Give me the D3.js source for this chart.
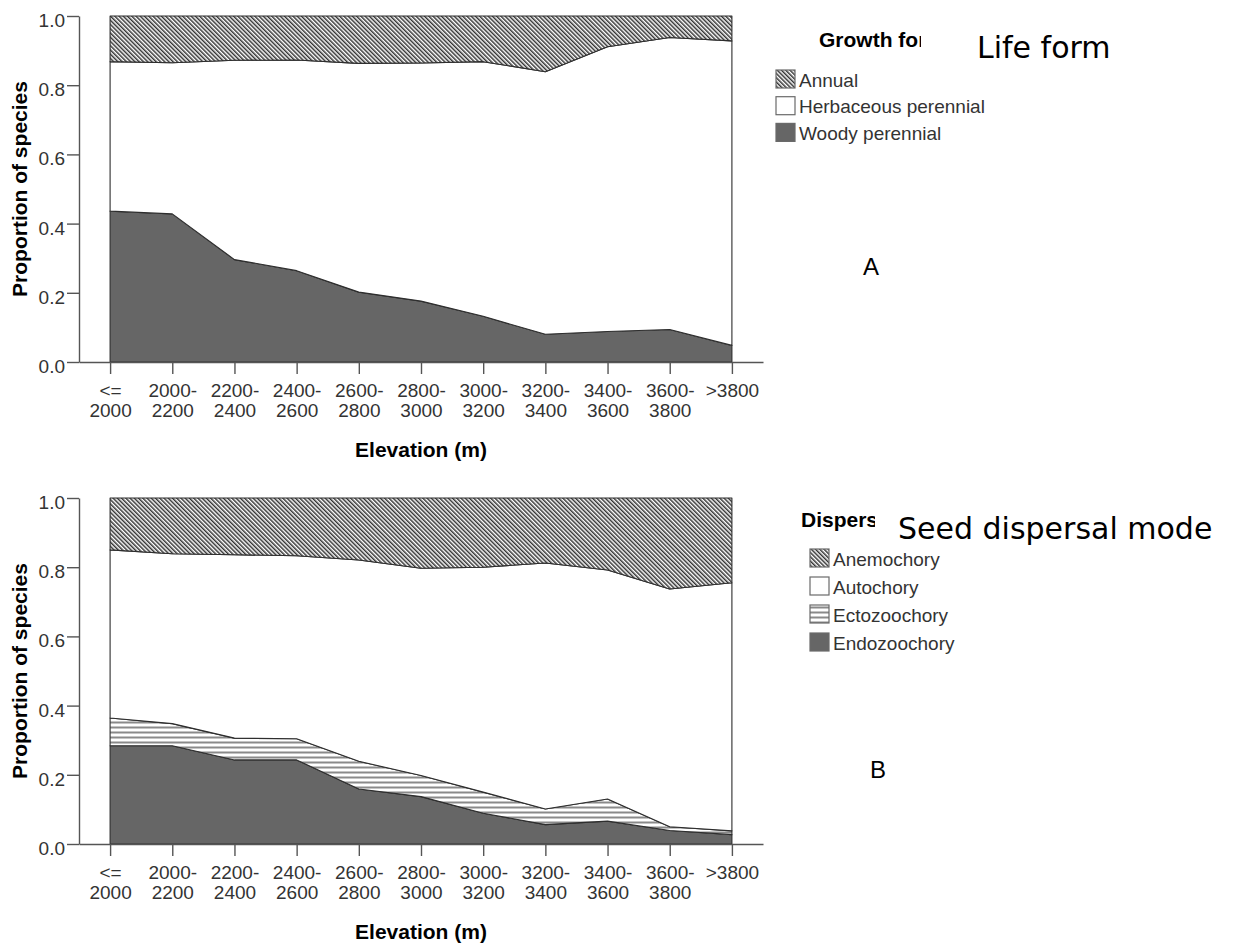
<!DOCTYPE html>
<html>
<head>
<meta charset="utf-8">
<script src="https://cdn.jsdelivr.net/npm/d3@7"></script>
<style>
  body { margin: 0; background: #fff; }
  svg { display: block; }
</style>
</head>
<body>
<svg id="chart" width="1234" height="945"></svg>
<script>
// elevation classes (x categories)
var elevations = ["<=\n2000", "2000-\n2200", "2200-\n2400", "2400-\n2600", "2600-\n2800",
                  "2800-\n3000", "3000-\n3200", "3200-\n3400", "3400-\n3600", "3600-\n3800", ">3800"];
var yTicks = [0, 0.2, 0.4, 0.6, 0.8, 1.0];

// panel A : growth form proportions (stacked bottom -> top)
var growthKeys = ["Woody perennial", "Herbaceous perennial", "Annual"];
var woody  = [0.436, 0.428, 0.296, 0.264, 0.202, 0.176, 0.132, 0.080, 0.088, 0.094, 0.048];
var herb   = [0.432, 0.437, 0.576, 0.609, 0.661, 0.688, 0.736, 0.759, 0.823, 0.844, 0.880];
var annual = [0.132, 0.135, 0.128, 0.127, 0.137, 0.136, 0.132, 0.161, 0.089, 0.062, 0.072];

// panel B : dispersal mode proportions (stacked bottom -> top)
var dispKeys = ["Endozoochory", "Ectozoochory", "Autochory", "Anemochory"];
var endo  = [0.284, 0.284, 0.243, 0.243, 0.159, 0.137, 0.089, 0.056, 0.066, 0.039, 0.027];
var ecto  = [0.080, 0.064, 0.063, 0.061, 0.080, 0.061, 0.061, 0.045, 0.064, 0.011, 0.011];
var auto  = [0.486, 0.491, 0.530, 0.529, 0.582, 0.599, 0.650, 0.711, 0.662, 0.687, 0.717];
var anemo = [0.150, 0.161, 0.164, 0.167, 0.179, 0.203, 0.200, 0.188, 0.208, 0.263, 0.245];

var svg = d3.select("#chart");
var defs = svg.append("defs");

// diagonal hatch "\\\\"
defs.append("pattern")
    .attr("id", "diag")
    .attr("patternUnits", "userSpaceOnUse")
    .attr("width", 3).attr("height", 3)
    .attr("patternTransform", "rotate(-45)")
  .call(function(p){
    p.append("rect").attr("width", 3).attr("height", 3).attr("fill", "#fff");
    p.append("rect").attr("width", 1.5).attr("height", 3).attr("fill", "#333");
  });

// horizontal stripes
defs.append("pattern")
    .attr("id", "hstripe")
    .attr("patternUnits", "userSpaceOnUse")
    .attr("width", 4).attr("height", 5)
  .call(function(p){
    p.append("rect").attr("width", 4).attr("height", 5).attr("fill", "#fff");
    p.append("rect").attr("y", 1.5).attr("width", 4).attr("height", 2).attr("fill", "#8a8a8a");
  });

var FONT = "'Liberation Sans', Arial, sans-serif";

function drawPanel(p) {
  var g = svg.append("g");
  var y = d3.scaleLinear().domain([0, 1]).range([p.top + 346, p.top]);
  var x = d3.scalePoint().domain(d3.range(elevations.length)).range([79, 763]).padding(0.5);

  var rows = elevations.map(function(e, i){
    var r = { i: i };
    p.keys.forEach(function(k, j){ r[k] = p.values[j][i]; });
    return r;
  });
  var series = d3.stack().keys(p.keys)(rows);

  var area = d3.area()
      .x(function(d){ return x(d.data.i); })
      .y0(function(d){ return y(d[0]); })
      .y1(function(d){ return y(d[1]); });

  g.selectAll("path.layer")
    .data(series)
    .enter().append("path")
      .attr("class", "layer")
      .attr("d", area)
      .attr("fill", function(d, i){ return p.fills[i]; })
      .attr("stroke", "#2e2e2e")
      .attr("stroke-width", 1.1)
      .attr("stroke-linejoin", "round");

  // y axis
  var ya = g.append("g")
      .attr("transform", "translate(79,0)")
      .call(d3.axisLeft(y).tickValues(yTicks).tickFormat(d3.format(".1f"))
              .tickSize(12).tickSizeOuter(0).tickPadding(2));
  // x axis
  var xa = g.append("g")
      .attr("transform", "translate(0," + y(0) + ")")
      .call(d3.axisBottom(x).tickSize(12).tickSizeOuter(0).tickFormat(""));

  [ya, xa].forEach(function(a){
    a.selectAll("path, line").attr("stroke", "#555").attr("stroke-width", 1.4);
    a.selectAll("text").attr("font-family", FONT).attr("font-size", 19).attr("fill", "#333");
  });
  ya.selectAll("text").attr("dy", "0.55em");

  // two-line category labels
  xa.selectAll(".tick").append("text")
      .attr("text-anchor", "middle")
      .attr("font-family", FONT).attr("font-size", 19).attr("fill", "#333")
    .selectAll("tspan")
    .data(function(d){ return elevations[d].split("\n"); })
    .enter().append("tspan")
      .attr("x", 0)
      .attr("y", function(d, i){ return 35 + i * 20; })
      .text(function(d){ return d; });

  // axis titles
  g.append("text")
      .attr("x", 421).attr("y", y(0) + 95)
      .attr("text-anchor", "middle")
      .attr("font-family", FONT).attr("font-size", 21).attr("font-weight", "bold")
      .text("Elevation (m)");
  g.append("text")
      .attr("transform", "translate(27," + (y(0) + y(1)) / 2 + ") rotate(-90)")
      .attr("text-anchor", "middle")
      .attr("font-family", FONT).attr("font-size", 21).attr("font-weight", "bold")
      .text("Proportion of species");

  // legend (title is cut off in the original)
  var L = p.legend;
  defs.append("clipPath").attr("id", p.id + "clip")
    .append("rect").attr("x", L.titleX).attr("y", L.titleY - 30)
      .attr("width", L.clipW).attr("height", 40);
  g.append("text")
      .attr("x", L.titleX).attr("y", L.titleY)
      .attr("clip-path", "url(#" + p.id + "clip)")
      .attr("font-family", FONT).attr("font-size", 21).attr("font-weight", "bold")
      .text(L.title);

  var order = p.keys.slice().reverse();
  var item = g.selectAll("g.leg")
    .data(order)
    .enter().append("g")
      .attr("class", "leg")
      .attr("transform", function(d, i){ return "translate(" + L.x + "," + (L.y + i * L.step) + ")"; });
  item.append("rect")
      .attr("width", 19).attr("height", 18)
      .attr("fill", function(d){ return p.fills[p.keys.indexOf(d)]; })
      .attr("stroke", "#6a6a6a").attr("stroke-width", 1.2);
  item.append("text")
      .attr("x", L.textDx).attr("y", 16.5)
      .attr("font-family", FONT).attr("font-size", 19).attr("fill", "#333")
      .text(function(d){ return d; });

  // overlaid caption and panel letter
  g.append("text")
      .attr("x", p.caption.x).attr("y", p.caption.y)
      .attr("font-family", "'DejaVu Sans', Verdana, sans-serif").attr("font-size", 30)
      .text(p.caption.text);
  g.append("text")
      .attr("x", p.letter.x).attr("y", p.letter.y)
      .attr("text-anchor", "middle")
      .attr("font-family", FONT).attr("font-size", 24)
      .text(p.letter.text);
}

drawPanel({
  id: "a", top: 16,
  keys: growthKeys,
  values: [woody, herb, annual],
  fills: ["#666666", "#ffffff", "url(#diag)"],
  legend: { title: "Growth for", titleX: 819, titleY: 47, clipW: 102,
            x: 776, y: 70, step: 26.7, textDx: 23 },
  caption: { text: "Life form", x: 977, y: 58 },
  letter: { text: "A", x: 871, y: 275 }
});

drawPanel({
  id: "b", top: 498,
  keys: dispKeys,
  values: [endo, ecto, auto, anemo],
  fills: ["#666666", "url(#hstripe)", "#ffffff", "url(#diag)"],
  legend: { title: "Dispers", titleX: 801, titleY: 527, clipW: 74,
            x: 810, y: 549, step: 28, textDx: 23 },
  caption: { text: "Seed dispersal mode", x: 898, y: 539 },
  letter: { text: "B", x: 878, y: 778 }
});
</script>
</body>
</html>
